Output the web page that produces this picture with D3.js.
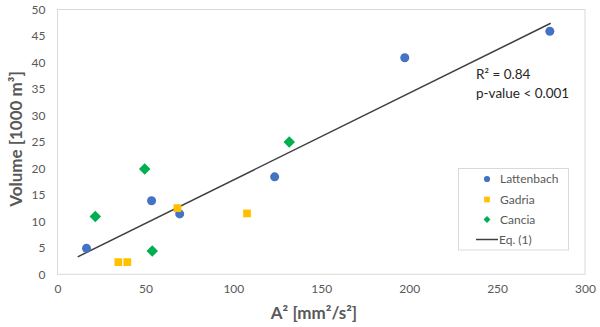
<!DOCTYPE html>
<html><head><meta charset="utf-8">
<script src="https://cdn.jsdelivr.net/npm/d3@7"></script>
<style>body{margin:0;background:#fff}svg{display:block}text{font-family:Lato,"Liberation Sans",sans-serif}</style>
</head><body>
<svg id="c" width="600" height="327"></svg>
<script>
const lattenbach = [[16.5,4.9],[53.5,13.9],[69.5,11.4],[123.5,18.4],[197.5,40.9],[280,45.9]];
const gadria = [[34.6,2.3],[39.7,2.3],[68.2,12.5],[107.8,11.5]];
const cancia = [[21.5,10.9],[49.6,19.9],[53.9,4.4],[131.8,25.0]];
const eqLine = [[11.5,3.3],[280.5,47.4]];
const xTicks = [0,50,100,150,200,250,300];
const yTicks = [0,5,10,15,20,25,30,35,40,45,50];
const legendItems = ["Lattenbach","Gadria","Cancia","Eq. (1)"];

const svg = d3.select("#c");
const L=57.5, R=585, T=9.5, B=274.3;
const x = d3.scaleLinear().domain([0,300]).range([L,R]);
const y = d3.scaleLinear().domain([0,50]).range([B,T]);

svg.append("rect").attr("x",L).attr("y",T).attr("width",R-L).attr("height",B-T)
  .attr("fill","none").attr("stroke","#d9d9d9").attr("stroke-width",1);

const xa = svg.append("g").attr("transform",`translate(0,${B})`)
  .call(d3.axisBottom(x).tickValues(xTicks).tickSize(0).tickPadding(10));
xa.select(".domain").remove();
xa.selectAll("text").attr("fill","#595959").attr("font-size","12px").attr("font-family","Lato,'Liberation Sans',sans-serif");
const ya = svg.append("g").attr("transform",`translate(${L},0)`)
  .call(d3.axisLeft(y).tickValues(yTicks).tickSize(0).tickPadding(12));
ya.select(".domain").remove();
ya.selectAll("text").attr("fill","#595959").attr("font-size","12px").attr("font-family","Lato,'Liberation Sans',sans-serif");

svg.append("text").attr("x",314).attr("y",319).attr("text-anchor","middle")
  .attr("font-size","17px").attr("font-weight","bold").attr("fill","#595959")
  .text("A² [mm²/s²]");
svg.append("text").attr("transform","translate(22,139) rotate(-90)").attr("text-anchor","middle")
  .attr("font-size","17px").attr("font-weight","bold").attr("fill","#595959")
  .text("Volume [1000 m³]");

const line = d3.line().x(d=>x(d[0])).y(d=>y(d[1]));
svg.append("path").datum(eqLine).attr("d",line).attr("stroke","#404040").attr("stroke-width",1.5).attr("fill","none");

const sym = {
  c: d3.symbol().type(d3.symbolCircle).size(64),
  s: d3.symbol().type(d3.symbolSquare).size(60),
  d: d3.symbol().type(d3.symbolSquare).size(66)
};
function pts(data, s, color, rot){
  svg.append("g").selectAll("path").data(data).join("path")
    .attr("d",s).attr("fill",color)
    .attr("transform",d=>`translate(${x(d[0])},${y(d[1])}) rotate(${rot||0})`);
}
pts(lattenbach, sym.c, "#4472C4");
pts(gadria, sym.s, "#FFC000");
pts(cancia, sym.d, "#00B050", 45);

svg.append("text").attr("x",476).attr("y",79).attr("font-size","13.5px").attr("fill","#262626").text("R² = 0.84");
svg.append("text").attr("x",476).attr("y",98).attr("font-size","13.5px").attr("fill","#262626").text("p-value < 0.001");

// legend
const lg = svg.append("g");
lg.append("rect").attr("x",458.5).attr("y",168.5).attr("width",110).attr("height",81.5)
  .attr("fill","#fff").attr("stroke","#d9d9d9");
const ly = [179,199.5,219.5,239.5];
const lsym = [[d3.symbol().type(d3.symbolCircle).size(30),"#4472C4",0],[d3.symbol().type(d3.symbolSquare).size(32),"#FFC000",0],[d3.symbol().type(d3.symbolSquare).size(24),"#00B050",45]];
legendItems.forEach((t,i)=>{
  if(i<3){
    lg.append("path").attr("d",lsym[i][0]).attr("fill",lsym[i][1]).attr("transform",`translate(487,${ly[i]}) rotate(${lsym[i][2]})`);
    lg.append("text").attr("x",500).attr("y",ly[i]+4).attr("font-size","12px").attr("fill","#595959").text(t);
  } else {
    lg.append("line").attr("x1",476).attr("x2",498).attr("y1",ly[i]).attr("y2",ly[i]).attr("stroke","#404040").attr("stroke-width",1.5);
    lg.append("text").attr("x",499).attr("y",ly[i]+4).attr("font-size","12px").attr("fill","#595959").text(t);
  }
});
</script>
</body></html>
